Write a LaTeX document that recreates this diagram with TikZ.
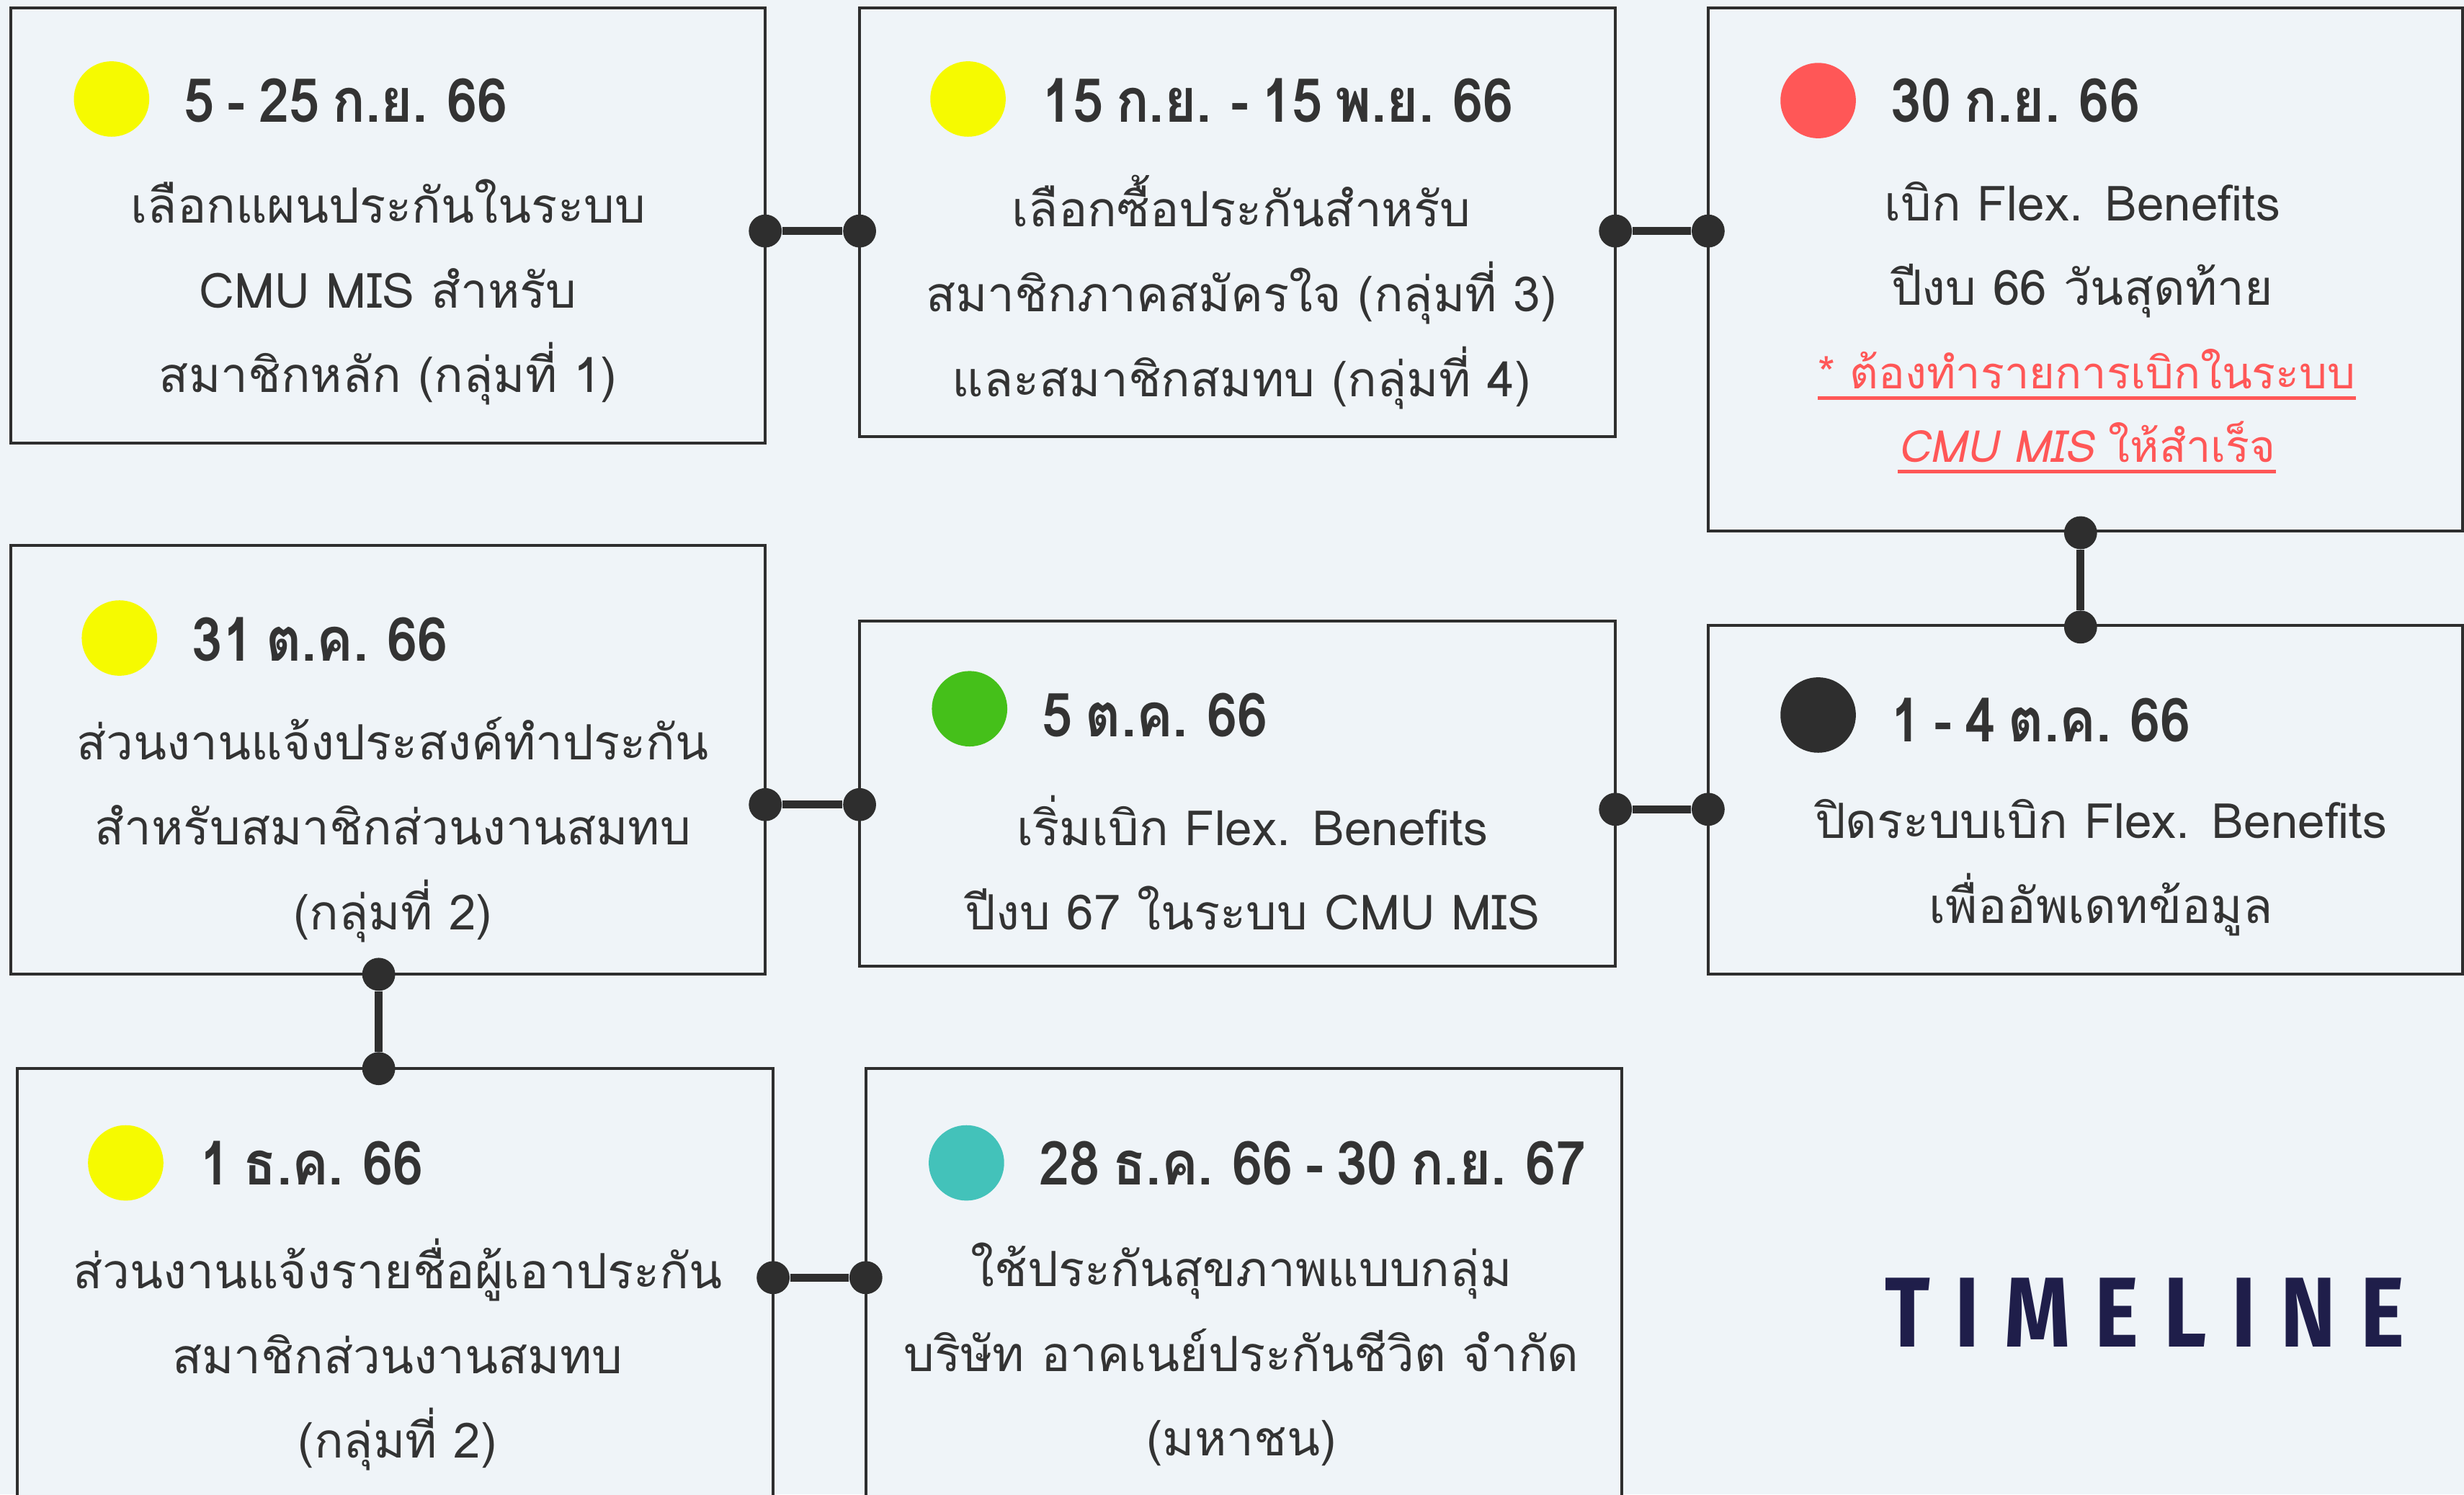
\documentclass[tikz,border=0pt]{standalone}
\usepackage{fontspec}
\setmainfont[Script=Thai]{Loma}
\newfontfamily\datefont[Script=Thai,FakeStretch=0.9,WordSpace=0.7]{Loma}
\newfontfamily\slantfont[Script=Thai,FakeSlant=0.2]{Loma}
\newfontfamily\titlefont[LetterSpace=25,FakeStretch=0.84]{Fira Sans}
\usetikzlibrary{positioning}

\definecolor{bg}{HTML}{EFF4F8}
\definecolor{ink}{HTML}{2E2E2E}
\definecolor{txt}{HTML}{333333}
\definecolor{dyellow}{HTML}{F6FA00}
\definecolor{dred}{HTML}{FF5757}
\definecolor{dgreen}{HTML}{45C01A}
\definecolor{dteal}{HTML}{43C2BA}
\definecolor{navy}{HTML}{1F1E4A}

% underline drawn as a rule under the text
\newcommand{\undl}[1]{\setbox0\hbox{#1}\rlap{\rule[-4pt]{\wd0}{1.1pt}}\box0}

\begin{document}
\begin{tikzpicture}[x=0.02cm,y=-0.02cm,
    box/.style={draw=ink,line width=1.1pt,fill=bg,inner sep=0pt},
    bullet/.style={circle,inner sep=0pt,minimum size=0.96cm},
    dot/.style={circle,fill=ink,inner sep=0pt,minimum size=0.42cm},
    link/.style={draw=ink,line width=2.8pt},
    date/.style={anchor=west,inner sep=0pt,text=txt,font=\datefont\bfseries\fontsize{22}{26}\selectfont},
    body/.style={align=center,inner sep=0pt,text=txt,font=\fontsize{17.6}{30.7}\selectfont},
    note/.style={align=center,inner sep=0pt,text=dred,font=\fontsize{16}{26.6}\selectfont}]

    \fill[bg] (0,0) rectangle (1568,951);
    \useasboundingbox (0,0) rectangle (1568,951);
    \clip (0,0) rectangle (1568,951);

    % boxes
    \node[box,minimum width=9.6cm,minimum height=5.54cm] (b1) at (247,143.5) {};
    \node[box,minimum width=9.62cm,minimum height=5.46cm] (b2) at (787.5,141.5) {};
    \node[box,minimum width=9.6cm,minimum height=6.66cm] (b3) at (1327,171.5) {};
    \node[box,minimum width=9.6cm,minimum height=5.46cm] (b4) at (247,483.5) {};
    \node[box,minimum width=9.62cm,minimum height=4.4cm] (b5) at (787.5,505) {};
    \node[box,minimum width=9.6cm,minimum height=4.44cm] (b6) at (1327,509) {};
    \node[box,minimum width=9.62cm,minimum height=6.2cm] (b7) at (251.5,835) {};
    \node[box,minimum width=9.62cm,minimum height=6.2cm] (b8) at (791.5,835) {};

    % 5 - 25 ก.ย. 66
    \node[bullet,fill=dyellow] (m1) at (71,63) {};
    \node[date] (d1) at (117,64) {5 - 25 ก.ย. 66};
    \node[body] (t1) at (247,186) {เลือกแผนประกันในระบบ\\CMU MIS สำหรับ\\สมาชิกหลัก (กลุ่มที่ 1)};

    % 15 ก.ย. - 15 พ.ย. 66
    \node[bullet,fill=dyellow] (m2) at (616,63) {};
    \node[date] (d2) at (663,64) {15 ก.ย. - 15 พ.ย. 66};
    \node[body] (t2) at (790,186) {เลือกซื้อประกันสำหรับ\\สมาชิกภาคสมัครใจ (กลุ่มที่ 3)\\และสมาชิกสมทบ (กลุ่มที่ 4)};

    % 30 ก.ย. 66
    \node[bullet,fill=dred] (m3) at (1157,64) {};
    \node[date] (d3) at (1203,64) {30 ก.ย. 66};
    \node[body] (t3) at (1325,159) {เบิก Flex. Benefits\\ปีงบ 66 วันสุดท้าย};
    \node[note] (n3) at (1328,261.5) {\undl{* ต้องทำรายการเบิกในระบบ}\\\undl{{\slantfont CMU MIS} ให้สำเร็จ}};

    % 31 ต.ค. 66
    \node[bullet,fill=dyellow] (m4) at (76,406) {};
    \node[date] (d4) at (122,407) {31 ต.ค. 66};
    \node[body] (t4) at (250,528) {ส่วนงานแจ้งประสงค์ทำประกัน\\สำหรับสมาชิกส่วนงานสมทบ\\(กลุ่มที่ 2)};

    % 5 ต.ค. 66
    \node[bullet,fill=dgreen] (m5) at (617,451) {};
    \node[date] (d5) at (663,455) {5 ต.ค. 66};
    \node[body] (t5) at (797,549) {เริ่มเบิก Flex. Benefits\\ปีงบ 67 ในระบบ CMU MIS};

    % 1 - 4 ต.ค. 66
    \node[bullet,fill=ink] (m6) at (1157,455) {};
    \node[date] (d6) at (1203,458) {1 - 4 ต.ค. 66};
    \node[body] (t6) at (1337,552) {ปิดระบบเบิก Flex. Benefits\\เพื่ออัพเดทข้อมูล};

    % 1 ธ.ค. 66
    \node[bullet,fill=dyellow] (m7) at (80,740) {};
    \node[date] (d7) at (127,740) {1 ธ.ค. 66};
    \node[body] (t7) at (253,862) {ส่วนงานแจ้งรายชื่อผู้เอาประกัน\\สมาชิกส่วนงานสมทบ\\(กลุ่มที่ 2)};

    % 28 ธ.ค. 66 - 30 ก.ย. 67
    \node[bullet,fill=dteal] (m8) at (615,740) {};
    \node[date] (d8) at (661,740) {28 ธ.ค. 66 - 30 ก.ย. 67};
    \node[body] (t8) at (790,862) {ใช้ประกันสุขภาพแบบกลุ่ม\\บริษัท อาคเนย์ประกันชีวิต จำกัด\\(มหาชน)};

    % connectors
    \node[dot] (c1a) at (487,147) {};
    \node[dot] (c1b) at (547,147) {};
    \node[dot] (c2a) at (1028,147) {};
    \node[dot] (c2b) at (1087,147) {};
    \node[dot] (c3a) at (1324,339) {};
    \node[dot] (c3b) at (1324,399) {};
    \node[dot] (c4a) at (1087,515) {};
    \node[dot] (c4b) at (1028,515) {};
    \node[dot] (c5a) at (547,512) {};
    \node[dot] (c5b) at (487,512) {};
    \node[dot] (c6a) at (241,620) {};
    \node[dot] (c6b) at (241,680) {};
    \node[dot] (c7a) at (492,813) {};
    \node[dot] (c7b) at (551,813) {};

    \draw[link] (c1a) -- (c1b);
    \draw[link] (c2a) -- (c2b);
    \draw[link] (c3a) -- (c3b);
    \draw[link] (c4a) -- (c4b);
    \draw[link] (c5a) -- (c5b);
    \draw[link] (c6a) -- (c6b);
    \draw[link] (c7a) -- (c7b);

    \node[text=navy,inner sep=0pt,font=\titlefont\bfseries\fontsize{36}{40}\selectfont] (title) at (1365,835) {TIMELINE};
\end{tikzpicture}
\end{document}
